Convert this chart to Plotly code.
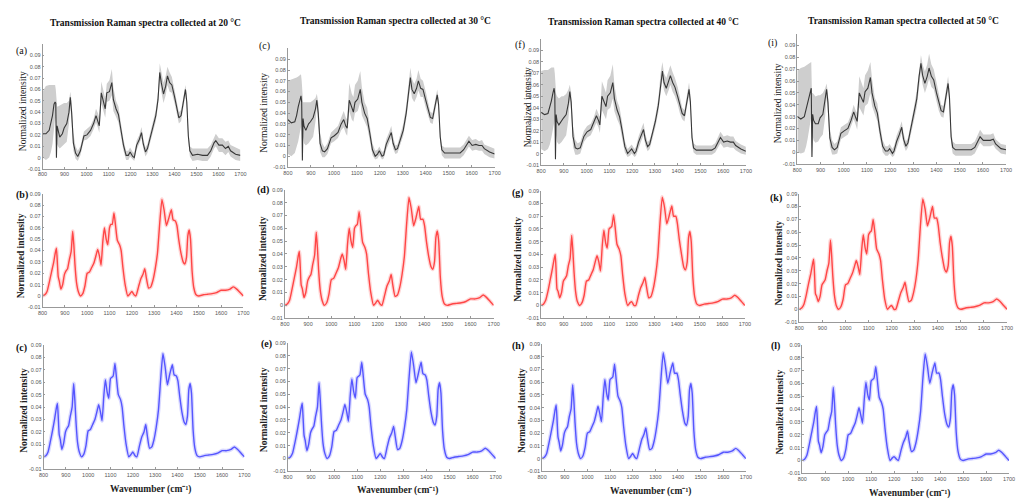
import plotly.graph_objects as go

# ---------------- DATA ----------------
temps = ["20", "30", "40", "50"]
titles = [f"Transmission Raman spectra collected at {t} °C" for t in temps]
labels_top = ["(a)", "(c)", "(f)", "(i)"]
labels_mid = ["(b)", "(d)", "(g)", "(k)"]
labels_bot = ["(c)", "(e)", "(h)", "(l)"]

x_ticks = [800, 900, 1000, 1100, 1200, 1300, 1400, 1500, 1600, 1700]
y_ticks = [-0.01, 0, 0.01, 0.02, 0.03, 0.04, 0.05, 0.06, 0.07, 0.08, 0.09]
y_ticktext = ["-0.01", "0", "0.01", "0.02", "0.03", "0.04", "0.05", "0.06", "0.07", "0.08", "0.09"]

# wavenumber grid for the black (mean +/- spread) spectra
wn_k = [800, 815, 830, 838, 845, 852, 857, 860, 863, 866,
        870, 878, 890, 898, 910, 920, 926, 932, 940, 950,
        960, 972, 988, 1002, 1018, 1032, 1043, 1052, 1058, 1067,
        1078, 1085, 1092, 1104, 1115, 1122, 1134, 1145, 1156, 1168,
        1180, 1190, 1198, 1210, 1217, 1228, 1240, 1250, 1258, 1268,
        1277, 1288, 1302, 1315, 1325, 1333, 1340, 1350, 1360, 1368,
        1378, 1388, 1400, 1410, 1420, 1430, 1440, 1450, 1456, 1463,
        1470, 1482, 1505, 1528, 1550, 1565, 1580, 1588, 1602, 1618,
        1632, 1645, 1655, 1678, 1700]

mean_20 = [0.021, 0.021, 0.024, 0.031, 0.037, 0.047, 0.049, 0.048, 0.000, 0.028,
           0.025, 0.018, 0.021, 0.026, 0.030, 0.040, 0.053, 0.040, 0.013, 0.004,
           0.001, 0.006, 0.019, 0.020, 0.024, 0.030, 0.037, 0.032, 0.028, 0.057,
           0.049, 0.043, 0.057, 0.058, 0.066, 0.051, 0.043, 0.038, 0.025, 0.011,
           0.002, 0.002, 0.005, 0.001, 0.000, 0.011, 0.016, 0.022, 0.012, 0.005,
           0.008, 0.016, 0.025, 0.037, 0.051, 0.075, 0.066, 0.056, 0.063, 0.072,
           0.066, 0.064, 0.054, 0.043, 0.035, 0.037, 0.050, 0.060, 0.049, 0.019,
           0.006, 0.002, 0.003, 0.002, 0.002, 0.006, 0.013, 0.015, 0.011, 0.011,
           0.008, 0.010, 0.006, 0.003, 0.002]
hi_20 = [0.058, 0.063, 0.064, 0.064, 0.064, 0.064, 0.064, 0.060, 0.045, 0.045,
         0.045, 0.046, 0.047, 0.048, 0.048, 0.050, 0.058, 0.050, 0.022, 0.010,
         0.006, 0.010, 0.023, 0.025, 0.028, 0.034, 0.043, 0.039, 0.035, 0.067,
         0.058, 0.052, 0.065, 0.068, 0.078, 0.062, 0.050, 0.045, 0.031, 0.016,
         0.006, 0.006, 0.009, 0.005, 0.004, 0.015, 0.020, 0.027, 0.017, 0.009,
         0.012, 0.020, 0.030, 0.042, 0.058, 0.083, 0.076, 0.066, 0.072, 0.080,
         0.075, 0.071, 0.060, 0.048, 0.040, 0.042, 0.055, 0.064, 0.055, 0.024,
         0.010, 0.008, 0.008, 0.008, 0.008, 0.011, 0.018, 0.021, 0.017, 0.017,
         0.014, 0.015, 0.011, 0.009, 0.007]
lo_20 = [0.000, -0.002, 0.000, 0.005, 0.012, 0.028, 0.035, 0.030, -0.003, 0.012,
         0.010, 0.008, 0.010, 0.012, 0.014, 0.030, 0.046, 0.030, 0.006, -0.001,
         -0.003, 0.002, 0.015, 0.016, 0.019, 0.025, 0.031, 0.026, 0.022, 0.048,
         0.041, 0.035, 0.049, 0.050, 0.055, 0.041, 0.036, 0.031, 0.019, 0.006,
         -0.002, -0.002, 0.001, -0.002, -0.003, 0.007, 0.012, 0.017, 0.008, 0.001,
         0.004, 0.012, 0.020, 0.032, 0.045, 0.068, 0.058, 0.048, 0.055, 0.064,
         0.058, 0.057, 0.048, 0.038, 0.030, 0.032, 0.045, 0.055, 0.043, 0.014,
         0.001, -0.003, -0.002, -0.003, -0.003, 0.001, 0.008, 0.010, 0.005, 0.005,
         0.002, 0.005, 0.001, -0.002, -0.003]

mean_30 = [0.034, 0.031, 0.032, 0.038, 0.046, 0.053, 0.056, 0.050, -0.004, 0.035,
           0.028, 0.024, 0.030, 0.032, 0.036, 0.044, 0.052, 0.040, 0.012, 0.005,
           0.004, 0.007, 0.017, 0.019, 0.022, 0.030, 0.034, 0.028, 0.026, 0.052,
           0.044, 0.041, 0.050, 0.053, 0.062, 0.050, 0.040, 0.035, 0.022, 0.006,
           0.000, 0.002, 0.005, 0.000, 0.001, 0.011, 0.017, 0.022, 0.012, 0.006,
           0.007, 0.014, 0.024, 0.040, 0.060, 0.073, 0.062, 0.058, 0.063, 0.070,
           0.063, 0.062, 0.052, 0.044, 0.036, 0.035, 0.046, 0.057, 0.048, 0.018,
           0.006, 0.003, 0.003, 0.003, 0.003, 0.006, 0.011, 0.014, 0.010, 0.011,
           0.010, 0.010, 0.007, 0.004, 0.002]
hi_30 = [0.070, 0.071, 0.072, 0.073, 0.074, 0.075, 0.076, 0.070, 0.050, 0.050,
         0.050, 0.050, 0.050, 0.050, 0.052, 0.054, 0.058, 0.050, 0.022, 0.012,
         0.008, 0.012, 0.022, 0.025, 0.028, 0.036, 0.042, 0.036, 0.034, 0.068,
         0.058, 0.055, 0.066, 0.070, 0.079, 0.064, 0.050, 0.045, 0.030, 0.012,
         0.005, 0.006, 0.009, 0.004, 0.005, 0.016, 0.022, 0.028, 0.018, 0.010,
         0.011, 0.019, 0.030, 0.047, 0.068, 0.082, 0.072, 0.067, 0.072, 0.080,
         0.072, 0.070, 0.060, 0.050, 0.041, 0.040, 0.052, 0.062, 0.054, 0.024,
         0.010, 0.008, 0.008, 0.008, 0.008, 0.011, 0.016, 0.019, 0.015, 0.016,
         0.014, 0.015, 0.011, 0.009, 0.007]
lo_30 = [0.002, 0.000, 0.003, 0.008, 0.014, 0.022, 0.030, 0.030, -0.005, 0.018,
         0.012, 0.010, 0.012, 0.014, 0.018, 0.032, 0.046, 0.030, 0.004, -0.001,
         -0.001, 0.002, 0.012, 0.014, 0.017, 0.024, 0.027, 0.021, 0.019, 0.042,
         0.034, 0.032, 0.040, 0.042, 0.050, 0.038, 0.032, 0.027, 0.015, 0.001,
         -0.003, -0.002, 0.001, -0.003, -0.002, 0.006, 0.012, 0.017, 0.007, 0.002,
         0.003, 0.010, 0.019, 0.034, 0.053, 0.065, 0.054, 0.050, 0.055, 0.061,
         0.055, 0.055, 0.045, 0.038, 0.031, 0.030, 0.040, 0.052, 0.042, 0.013,
         0.001, -0.002, -0.002, -0.002, -0.002, 0.001, 0.006, 0.009, 0.005, 0.006,
         0.005, 0.005, 0.002, -0.001, -0.002]

mean_40 = [0.036, 0.034, 0.035, 0.040, 0.046, 0.053, 0.057, 0.052, -0.005, 0.034,
           0.028, 0.025, 0.029, 0.031, 0.034, 0.044, 0.054, 0.045, 0.015, 0.005,
           0.004, 0.005, 0.015, 0.019, 0.021, 0.027, 0.033, 0.029, 0.025, 0.050,
           0.044, 0.041, 0.050, 0.053, 0.062, 0.048, 0.038, 0.032, 0.020, 0.006,
           0.000, 0.002, 0.004, 0.000, 0.002, 0.010, 0.016, 0.021, 0.012, 0.006,
           0.008, 0.016, 0.028, 0.042, 0.062, 0.072, 0.062, 0.057, 0.063, 0.068,
           0.062, 0.058, 0.050, 0.041, 0.035, 0.033, 0.045, 0.056, 0.045, 0.014,
           0.005, 0.003, 0.003, 0.003, 0.003, 0.005, 0.011, 0.014, 0.010, 0.011,
           0.010, 0.010, 0.007, 0.004, 0.002]
hi_40 = [0.072, 0.073, 0.073, 0.074, 0.075, 0.075, 0.075, 0.070, 0.052, 0.052,
         0.050, 0.048, 0.050, 0.050, 0.052, 0.056, 0.060, 0.053, 0.024, 0.012,
         0.009, 0.010, 0.020, 0.024, 0.026, 0.032, 0.039, 0.034, 0.032, 0.063,
         0.056, 0.053, 0.064, 0.068, 0.078, 0.060, 0.046, 0.040, 0.027, 0.011,
         0.004, 0.006, 0.008, 0.004, 0.006, 0.015, 0.021, 0.027, 0.017, 0.010,
         0.012, 0.020, 0.033, 0.048, 0.070, 0.080, 0.070, 0.066, 0.072, 0.077,
         0.071, 0.066, 0.058, 0.048, 0.040, 0.038, 0.050, 0.062, 0.052, 0.020,
         0.009, 0.007, 0.007, 0.007, 0.007, 0.009, 0.015, 0.019, 0.015, 0.016,
         0.015, 0.015, 0.011, 0.008, 0.006]
lo_40 = [0.004, 0.002, 0.004, 0.008, 0.014, 0.022, 0.030, 0.030, -0.006, 0.016,
         0.010, 0.008, 0.010, 0.012, 0.016, 0.030, 0.047, 0.036, 0.006, -0.001,
         -0.001, 0.000, 0.010, 0.014, 0.016, 0.022, 0.027, 0.023, 0.018, 0.038,
         0.033, 0.030, 0.038, 0.040, 0.048, 0.037, 0.030, 0.025, 0.013, 0.001,
         -0.003, -0.002, 0.000, -0.003, -0.002, 0.005, 0.011, 0.016, 0.007, 0.002,
         0.004, 0.012, 0.023, 0.036, 0.055, 0.065, 0.055, 0.050, 0.055, 0.060,
         0.054, 0.050, 0.043, 0.035, 0.030, 0.028, 0.040, 0.050, 0.038, 0.008,
         0.001, -0.001, -0.001, -0.001, -0.001, 0.001, 0.007, 0.009, 0.005, 0.006,
         0.005, 0.005, 0.003, 0.000, -0.001]

mean_50 = [0.030, 0.028, 0.030, 0.036, 0.042, 0.049, 0.052, 0.054, -0.004, 0.032,
           0.027, 0.024, 0.024, 0.029, 0.032, 0.043, 0.053, 0.042, 0.012, 0.004,
           0.002, 0.004, 0.016, 0.018, 0.020, 0.027, 0.034, 0.029, 0.026, 0.050,
           0.045, 0.042, 0.051, 0.054, 0.063, 0.050, 0.039, 0.033, 0.018, 0.005,
           0.001, 0.001, 0.003, -0.001, 0.001, 0.009, 0.015, 0.021, 0.011, 0.005,
           0.008, 0.018, 0.032, 0.045, 0.064, 0.075, 0.065, 0.058, 0.064, 0.071,
           0.064, 0.061, 0.050, 0.041, 0.035, 0.034, 0.046, 0.058, 0.046, 0.013,
           0.004, 0.002, 0.002, 0.002, 0.002, 0.004, 0.010, 0.013, 0.010, 0.010,
           0.010, 0.011, 0.007, 0.003, 0.002]
hi_50 = [0.069, 0.071, 0.072, 0.073, 0.074, 0.075, 0.076, 0.076, 0.050, 0.050,
         0.049, 0.047, 0.048, 0.048, 0.050, 0.054, 0.058, 0.050, 0.020, 0.010,
         0.007, 0.009, 0.021, 0.023, 0.025, 0.032, 0.040, 0.035, 0.033, 0.064,
         0.057, 0.054, 0.065, 0.069, 0.076, 0.062, 0.046, 0.041, 0.025, 0.010,
         0.005, 0.005, 0.007, 0.003, 0.005, 0.014, 0.020, 0.026, 0.016, 0.009,
         0.012, 0.022, 0.037, 0.052, 0.072, 0.082, 0.074, 0.068, 0.074, 0.083,
         0.074, 0.070, 0.059, 0.048, 0.040, 0.039, 0.052, 0.064, 0.053, 0.019,
         0.009, 0.007, 0.007, 0.007, 0.007, 0.009, 0.015, 0.019, 0.015, 0.015,
         0.015, 0.016, 0.011, 0.007, 0.006]
lo_50 = [0.000, -0.001, 0.000, 0.005, 0.012, 0.022, 0.028, 0.030, -0.005, 0.014,
         0.010, 0.008, 0.009, 0.012, 0.015, 0.030, 0.046, 0.033, 0.005, -0.002,
         -0.002, -0.001, 0.011, 0.013, 0.015, 0.022, 0.028, 0.023, 0.019, 0.038,
         0.034, 0.031, 0.039, 0.041, 0.050, 0.039, 0.032, 0.026, 0.012, 0.000,
         -0.003, -0.003, -0.001, -0.004, -0.003, 0.004, 0.010, 0.016, 0.006, 0.001,
         0.004, 0.013, 0.026, 0.038, 0.056, 0.068, 0.057, 0.050, 0.056, 0.062,
         0.055, 0.053, 0.043, 0.035, 0.030, 0.029, 0.040, 0.052, 0.040, 0.007,
         -0.001, -0.003, -0.003, -0.003, -0.003, -0.001, 0.005, 0.008, 0.005, 0.005,
         0.005, 0.006, 0.003, -0.001, -0.002]

# wavenumber grid for the red / blue spectra
wn_rb = [800, 810, 820, 830, 840, 850, 857, 862, 866, 870,
         875, 882, 890, 898, 905, 912, 920, 928, 935, 940,
         945, 952, 960, 970, 980, 990, 1000, 1010, 1020, 1030,
         1040, 1047, 1055, 1062, 1070, 1077, 1085, 1092, 1100, 1106,
         1112, 1120, 1127, 1135, 1145, 1152, 1160, 1170, 1182, 1192,
         1200, 1210, 1218, 1230, 1240, 1250, 1258, 1265, 1275, 1285,
         1295, 1305, 1315, 1325, 1335, 1345, 1355, 1365, 1377, 1385,
         1395, 1402, 1410, 1420, 1430, 1437, 1445, 1451, 1457, 1463,
         1470, 1478, 1488, 1500, 1520, 1540, 1560, 1580, 1600, 1620,
         1640, 1655, 1670, 1685, 1700]

red_20 = [0.000, 0.001, 0.004, 0.012, 0.021, 0.030, 0.038, 0.042, 0.030, 0.017,
          0.013, 0.006, 0.010, 0.019, 0.022, 0.024, 0.032, 0.039, 0.057, 0.045,
          0.028, 0.012, 0.004, 0.000, 0.002, 0.009, 0.020, 0.021, 0.025, 0.029,
          0.036, 0.041, 0.035, 0.027, 0.048, 0.060, 0.050, 0.045, 0.060, 0.063,
          0.063, 0.073, 0.062, 0.049, 0.045, 0.040, 0.025, 0.010, 0.000, 0.002,
          0.004, 0.001, 0.000, 0.008, 0.015, 0.019, 0.024, 0.016, 0.007, 0.008,
          0.014, 0.024, 0.038, 0.064, 0.085, 0.075, 0.062, 0.068, 0.076, 0.067,
          0.066, 0.062, 0.050, 0.038, 0.030, 0.028, 0.034, 0.053, 0.058, 0.050,
          0.022, 0.007, 0.001, 0.000, 0.001, 0.0015, 0.002, 0.003, 0.005, 0.005,
          0.006, 0.008, 0.006, 0.003, 0.000]
red_30 = [0.000, 0.001, 0.004, 0.012, 0.021, 0.030, 0.038, 0.042, 0.030, 0.016,
          0.013, 0.006, 0.010, 0.019, 0.022, 0.024, 0.032, 0.039, 0.057, 0.045,
          0.028, 0.012, 0.004, 0.000, 0.002, 0.009, 0.020, 0.021, 0.025, 0.029,
          0.036, 0.040, 0.035, 0.028, 0.048, 0.060, 0.050, 0.045, 0.060, 0.062,
          0.063, 0.073, 0.062, 0.049, 0.045, 0.040, 0.025, 0.010, 0.000, 0.002,
          0.004, 0.001, 0.000, 0.008, 0.015, 0.019, 0.024, 0.016, 0.007, 0.008,
          0.014, 0.024, 0.038, 0.064, 0.084, 0.075, 0.062, 0.068, 0.077, 0.067,
          0.067, 0.062, 0.050, 0.038, 0.030, 0.028, 0.034, 0.053, 0.058, 0.050,
          0.022, 0.007, 0.001, 0.000, 0.001, 0.0015, 0.002, 0.003, 0.005, 0.005,
          0.006, 0.008, 0.006, 0.003, 0.000]
red_40 = [0.000, 0.001, 0.004, 0.011, 0.020, 0.029, 0.036, 0.040, 0.028, 0.013,
          0.011, 0.006, 0.010, 0.019, 0.021, 0.023, 0.031, 0.037, 0.055, 0.043,
          0.027, 0.011, 0.003, 0.000, 0.002, 0.008, 0.019, 0.020, 0.024, 0.028,
          0.035, 0.039, 0.034, 0.027, 0.047, 0.059, 0.049, 0.045, 0.060, 0.061,
          0.062, 0.071, 0.061, 0.048, 0.044, 0.039, 0.024, 0.009, 0.000, 0.002,
          0.003, 0.000, 0.000, 0.008, 0.014, 0.018, 0.022, 0.015, 0.006, 0.007,
          0.013, 0.023, 0.038, 0.065, 0.085, 0.077, 0.064, 0.070, 0.078, 0.070,
          0.070, 0.064, 0.052, 0.040, 0.030, 0.028, 0.034, 0.053, 0.058, 0.050,
          0.022, 0.007, 0.001, 0.000, 0.001, 0.0015, 0.002, 0.003, 0.005, 0.005,
          0.006, 0.008, 0.006, 0.003, 0.000]
red_50 = [0.000, 0.001, 0.004, 0.011, 0.020, 0.028, 0.035, 0.039, 0.027, 0.012,
          0.010, 0.006, 0.010, 0.019, 0.021, 0.023, 0.030, 0.036, 0.054, 0.042,
          0.026, 0.011, 0.003, 0.000, 0.002, 0.008, 0.019, 0.020, 0.024, 0.028,
          0.034, 0.038, 0.033, 0.027, 0.046, 0.058, 0.048, 0.043, 0.058, 0.060,
          0.061, 0.070, 0.060, 0.047, 0.043, 0.038, 0.023, 0.008, 0.000, 0.002,
          0.003, 0.000, 0.000, 0.007, 0.013, 0.017, 0.021, 0.014, 0.006, 0.007,
          0.013, 0.023, 0.039, 0.066, 0.086, 0.078, 0.065, 0.071, 0.080, 0.071,
          0.071, 0.065, 0.052, 0.040, 0.031, 0.029, 0.034, 0.052, 0.057, 0.049,
          0.021, 0.006, 0.001, 0.000, 0.001, 0.0015, 0.002, 0.003, 0.005, 0.005,
          0.006, 0.008, 0.006, 0.003, 0.000]

blue_20 = [0.000, 0.001, 0.004, 0.012, 0.021, 0.031, 0.039, 0.043, 0.031, 0.018,
           0.014, 0.006, 0.011, 0.020, 0.023, 0.025, 0.033, 0.040, 0.059, 0.046,
           0.029, 0.012, 0.004, 0.000, 0.002, 0.009, 0.021, 0.022, 0.026, 0.030,
           0.037, 0.042, 0.036, 0.029, 0.049, 0.062, 0.052, 0.047, 0.063, 0.064,
           0.065, 0.075, 0.063, 0.050, 0.046, 0.040, 0.025, 0.010, 0.000, 0.002,
           0.004, 0.001, 0.000, 0.009, 0.016, 0.020, 0.026, 0.017, 0.007, 0.008,
           0.014, 0.024, 0.038, 0.063, 0.083, 0.072, 0.058, 0.066, 0.074, 0.066,
           0.065, 0.061, 0.049, 0.036, 0.028, 0.026, 0.033, 0.054, 0.059, 0.051,
           0.022, 0.007, 0.001, 0.000, 0.001, 0.0015, 0.002, 0.003, 0.005, 0.005,
           0.006, 0.008, 0.006, 0.003, 0.000]
blue_30 = [0.000, 0.001, 0.004, 0.012, 0.021, 0.031, 0.039, 0.043, 0.031, 0.018,
           0.014, 0.006, 0.011, 0.020, 0.023, 0.025, 0.033, 0.040, 0.059, 0.046,
           0.029, 0.012, 0.004, 0.000, 0.002, 0.009, 0.021, 0.022, 0.026, 0.030,
           0.037, 0.042, 0.036, 0.029, 0.049, 0.062, 0.052, 0.047, 0.063, 0.064,
           0.065, 0.075, 0.063, 0.050, 0.046, 0.040, 0.025, 0.010, 0.000, 0.002,
           0.004, 0.001, 0.000, 0.009, 0.016, 0.020, 0.025, 0.017, 0.007, 0.008,
           0.014, 0.024, 0.038, 0.063, 0.083, 0.072, 0.059, 0.066, 0.075, 0.066,
           0.065, 0.061, 0.049, 0.036, 0.028, 0.026, 0.033, 0.054, 0.059, 0.051,
           0.022, 0.007, 0.001, 0.000, 0.001, 0.0015, 0.002, 0.003, 0.005, 0.005,
           0.006, 0.008, 0.006, 0.003, 0.000]
blue_40 = [0.000, 0.001, 0.004, 0.012, 0.021, 0.030, 0.038, 0.042, 0.030, 0.017,
           0.013, 0.006, 0.011, 0.020, 0.023, 0.025, 0.033, 0.039, 0.058, 0.046,
           0.029, 0.012, 0.004, 0.000, 0.002, 0.009, 0.020, 0.021, 0.025, 0.029,
           0.036, 0.041, 0.035, 0.029, 0.049, 0.062, 0.051, 0.046, 0.062, 0.063,
           0.064, 0.074, 0.062, 0.049, 0.045, 0.040, 0.025, 0.010, 0.000, 0.002,
           0.004, 0.001, 0.000, 0.008, 0.015, 0.019, 0.024, 0.016, 0.007, 0.008,
           0.014, 0.024, 0.038, 0.063, 0.083, 0.072, 0.059, 0.067, 0.075, 0.067,
           0.067, 0.062, 0.050, 0.037, 0.028, 0.026, 0.033, 0.054, 0.059, 0.051,
           0.022, 0.007, 0.001, 0.000, 0.001, 0.0015, 0.002, 0.003, 0.005, 0.005,
           0.006, 0.008, 0.006, 0.003, 0.000]
blue_50 = [0.000, 0.001, 0.004, 0.012, 0.021, 0.030, 0.038, 0.042, 0.030, 0.015,
           0.012, 0.006, 0.011, 0.020, 0.022, 0.024, 0.032, 0.038, 0.057, 0.045,
           0.028, 0.012, 0.004, 0.000, 0.002, 0.009, 0.020, 0.021, 0.025, 0.029,
           0.036, 0.041, 0.035, 0.029, 0.048, 0.061, 0.051, 0.047, 0.062, 0.063,
           0.064, 0.073, 0.062, 0.049, 0.045, 0.040, 0.025, 0.010, 0.000, 0.002,
           0.003, 0.001, 0.000, 0.008, 0.014, 0.018, 0.023, 0.015, 0.007, 0.008,
           0.014, 0.024, 0.038, 0.064, 0.083, 0.073, 0.060, 0.068, 0.076, 0.068,
           0.068, 0.063, 0.050, 0.036, 0.028, 0.026, 0.033, 0.054, 0.059, 0.051,
           0.022, 0.007, 0.001, 0.000, 0.001, 0.0015, 0.002, 0.003, 0.005, 0.005,
           0.006, 0.008, 0.006, 0.003, 0.000]

black_sets = [(mean_20, lo_20, hi_20), (mean_30, lo_30, hi_30),
              (mean_40, lo_40, hi_40), (mean_50, lo_50, hi_50)]
red_sets = [red_20, red_30, red_40, red_50]
blue_sets = [blue_20, blue_30, blue_40, blue_50]

# ---------------- LAYOUT (pixel geometry) ----------------
W, H = 1018, 501
# (x_left, x_right, y_top, y_bottom, y_top_value)
geo_top = [(38, 238, 41.5, 168, 0.1), (286, 495, 46, 166, 0.1),
           (542, 749, 36.4, 164, 0.1), (801, 1012, 31, 163, 0.1)]
geo_mid = [(38, 241, 193, 308, 0.09), (283, 494, 189, 319, 0.09),
           (542, 748, 190, 319, 0.09), (803, 1013, 193, 323, 0.09)]
geo_bot = [(39, 242, 346, 472, 0.09), (286, 496, 344, 474, 0.09),
           (543, 749, 345, 474, 0.09), (806, 1015, 346, 476, 0.09)]

title_pos = [(142, 20), (395, 18), (645, 19), (908, 18)]
lab_pos_top = [(17, 49), (262, 44), (521, 43), (776, 40)]
lab_pos_mid = [(17, 194), (261, 189), (519, 192), (779, 197)]
lab_pos_bot = [(17, 349), (264, 345), (519, 347), (779, 347)]
ytitle_x_top = [19, 261, 529, 781]
ytitle_x_mid = [17, 261, 519, 782]
ytitle_x_bot = [19, 262, 522, 784]
wavenumber_pos = [(147, 492), (397, 493), (653, 494), (914, 496)]

SERIF = "Liberation Serif, Times New Roman, serif"
SANS = "Liberation Sans, Arial, sans-serif"

fig = go.Figure()
layout = dict(width=W, height=H, margin=dict(l=0, r=0, t=0, b=0),
              paper_bgcolor="white", plot_bgcolor="white", showlegend=False)
annotations = []

def px_x(p):
    return p / W

def px_y(p):
    return 1 - p / H

axis_idx = [0]

def add_axes(g):
    axis_idx[0] += 1
    i = axis_idx[0]
    x0, x1, yt, yb, ytop = g
    xa = dict(domain=[px_x(x0), px_x(x1)], range=[800, 1700], tickvals=x_ticks,
              ticks="inside", ticklen=2, tickcolor="#999", showline=True,
              linecolor="#999", linewidth=0.8, showgrid=False, zeroline=False,
              tickfont=dict(family=SANS, size=5.5, color="#555"),
              anchor=f"y{i}" if i > 1 else "y")
    ya = dict(domain=[px_y(yb), px_y(yt)], range=[-0.01, ytop], tickvals=y_ticks,
              ticktext=y_ticktext, ticks="inside", ticklen=2, tickcolor="#999",
              showline=True, linecolor="#999", linewidth=0.8, showgrid=False,
              zeroline=False, tickfont=dict(family=SANS, size=5.5, color="#555"),
              anchor=f"x{i}" if i > 1 else "x")
    layout["xaxis" if i == 1 else f"xaxis{i}"] = xa
    layout["yaxis" if i == 1 else f"yaxis{i}"] = ya
    return ("x" if i == 1 else f"x{i}"), ("y" if i == 1 else f"y{i}")

def ann(text, x, y, size, angle=0, bold=False, color="#111"):
    annotations.append(dict(text=f"<b>{text}</b>" if bold else text,
                            x=px_x(x), y=px_y(y), xref="paper", yref="paper",
                            showarrow=False, textangle=angle, xanchor="center",
                            yanchor="middle",
                            font=dict(family=SERIF, size=size, color=color)))

for c in range(4):
    # ---- top row: mean + spread band (gray)
    xr, yr = add_axes(geo_top[c])
    m, lo, hi = black_sets[c]
    fig.add_trace(go.Scatter(x=wn_k, y=lo, xaxis=xr, yaxis=yr, mode="lines",
                             line=dict(width=0, color="rgba(0,0,0,0)"), hoverinfo="skip"))
    fig.add_trace(go.Scatter(x=wn_k, y=hi, xaxis=xr, yaxis=yr, mode="lines",
                             line=dict(width=0, color="rgba(0,0,0,0)"), fill="tonexty",
                             fillcolor="rgb(206,206,206)", hoverinfo="skip"))
    fig.add_trace(go.Scatter(x=wn_k, y=m, xaxis=xr, yaxis=yr, mode="lines",
                             line=dict(width=1.1, color="rgb(55,55,55)")))
    # ---- middle row: red
    xr, yr = add_axes(geo_mid[c])
    fig.add_trace(go.Scatter(x=wn_rb, y=red_sets[c], xaxis=xr, yaxis=yr, mode="lines",
                             line=dict(width=4, color="rgba(255,110,110,0.28)", shape="spline", smoothing=0.5)))
    fig.add_trace(go.Scatter(x=wn_rb, y=red_sets[c], xaxis=xr, yaxis=yr, mode="lines",
                             line=dict(width=1.4, color="rgb(255,70,70)", shape="spline", smoothing=0.5)))
    # ---- bottom row: blue
    xr, yr = add_axes(geo_bot[c])
    fig.add_trace(go.Scatter(x=wn_rb, y=blue_sets[c], xaxis=xr, yaxis=yr, mode="lines",
                             line=dict(width=4, color="rgba(120,120,255,0.28)", shape="spline", smoothing=0.5)))
    fig.add_trace(go.Scatter(x=wn_rb, y=blue_sets[c], xaxis=xr, yaxis=yr, mode="lines",
                             line=dict(width=1.4, color="rgb(85,85,255)", shape="spline", smoothing=0.5)))

    # ---- text
    ann(titles[c], title_pos[c][0], title_pos[c][1], 9.5, bold=True, color="#111")
    ann(labels_top[c], *lab_pos_top[c], 10, color="#111")
    ann(labels_mid[c], *lab_pos_mid[c], 10, bold=True, color="#111")
    ann(labels_bot[c], *lab_pos_bot[c], 10, bold=True, color="#111")
    g = geo_top[c]
    ann("Normalized intensity", ytitle_x_top[c], (g[2] + g[3]) / 2 + 5, 9.5, angle=-90, color="#222")
    g = geo_mid[c]
    ann("Normalized intensity", ytitle_x_mid[c], (g[2] + g[3]) / 2 + 5, 9.5, angle=-90, bold=True, color="#222")
    g = geo_bot[c]
    ann("Normalized intensity", ytitle_x_bot[c], (g[2] + g[3]) / 2 + 3, 9.5, angle=-90, bold=True, color="#222")
    ann("Wavenumber (cm⁻¹)", wavenumber_pos[c][0], wavenumber_pos[c][1], 9.5, bold=True, color="#222")

layout["annotations"] = annotations
fig.update_layout(**layout)
fig.write_html("out.html")
